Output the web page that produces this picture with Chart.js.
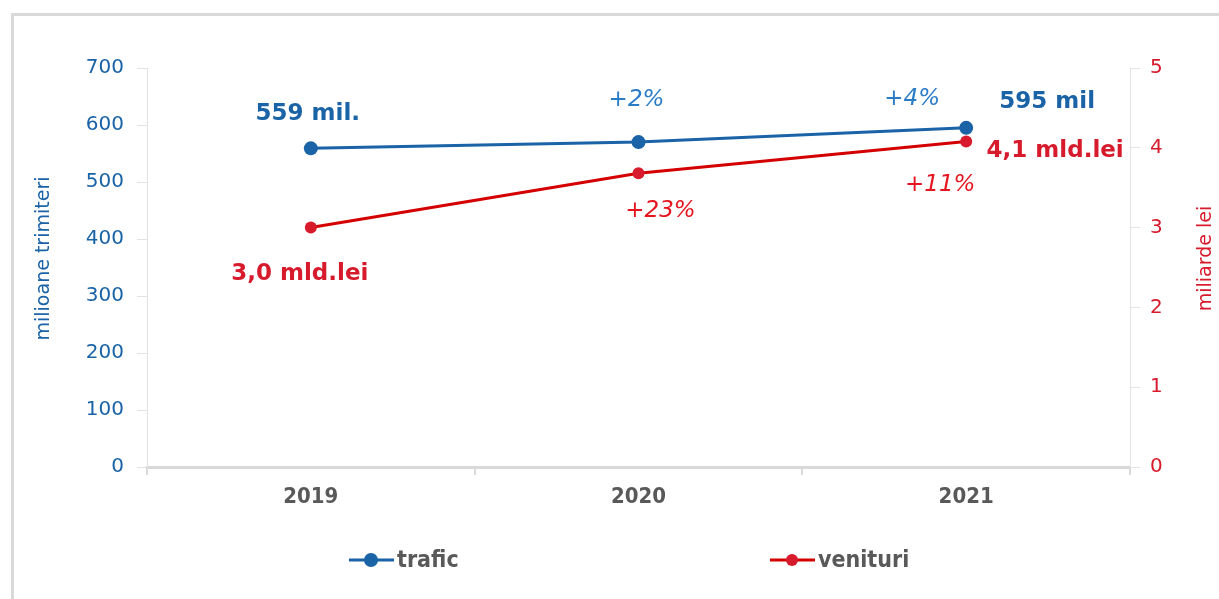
<!DOCTYPE html>
<html>
<head>
<meta charset="utf-8">
<script src="https://cdn.jsdelivr.net/npm/chart.js@4/dist/chart.umd.min.js"></script>
<style>
  html, body { margin: 0; padding: 0; background: #fff; }
  #c { display: block; }
</style>
</head>
<body>
<canvas id="c" width="1219" height="599"></canvas>
<script>
// date grafic
const years = ['2019', '2020', '2021'];
const trafic = [559, 570, 595];        // milioane trimiteri
const venituri = [3.0, 3.68, 4.08];    // miliarde lei
const leftTicks = [0, 100, 200, 300, 400, 500, 600, 700];
const rightTicks = [0, 1, 2, 3, 4, 5];

const BLUE = '#1a63a6';
const BLUE_LIGHT = '#2b7cc6';
const RED = '#d71a2c';
const RED_LINE = '#d40000';
const GREY = '#595959';

// etichete pe puncte: [dataset, index, text, tip, dx, dy]
const labels = [
  [0, 0, '559 mil.', 'bold', -3, -34],
  [0, 1, '+2%', 'italic', -2, -42],
  [0, 2, '+4%', 'italic', -54, -29],
  [0, 2, '595 mil', 'bold', 81, -26],
  [1, 0, '3,0 mld.lei', 'bold', -11, 46],
  [1, 1, '+23%', 'italic', 22, 38],
  [1, 2, '4,1 mld.lei', 'bold', 89, 10],
  [1, 2, '+11%', 'italic', -26, 44]
];

const extras = {
  id: 'extras',
  beforeDraw(chart) {
    const ctx = chart.ctx;
    ctx.save();
    ctx.strokeStyle = '#d9d9d9';
    ctx.lineWidth = 3;
    ctx.beginPath();
    ctx.moveTo(12.5, chart.height);
    ctx.lineTo(12.5, 14.5);
    ctx.lineTo(chart.width, 14.5);
    ctx.stroke();
    ctx.restore();
  },
  afterDraw(chart) {
    const ctx = chart.ctx;
    ctx.save();
    ctx.textAlign = 'center';
    ctx.textBaseline = 'middle';
    labels.forEach(l => {
      const pt = chart.getDatasetMeta(l[0]).data[l[1]];
      const blue = l[0] === 0;
      if (l[3] === 'bold') {
        ctx.font = 'bold 23px "DejaVu Sans"';
        ctx.fillStyle = blue ? BLUE : RED;
      } else {
        ctx.font = 'oblique 23px "DejaVu Sans"';
        ctx.fillStyle = blue ? BLUE_LIGHT : '#e5141f';
      }
      ctx.fillText(l[2], pt.x + l[4], pt.y + l[5]);
    });

    // titluri axe
    const area = chart.chartArea;
    const midY = (area.top + area.bottom) / 2 - 9;
    ctx.font = '19px "DejaVu Sans"';
    ctx.fillStyle = BLUE;
    ctx.save();
    ctx.translate(44, midY);
    ctx.rotate(-Math.PI / 2);
    ctx.fillText('milioane trimiteri', 0, 0);
    ctx.restore();
    ctx.fillStyle = RED;
    ctx.save();
    ctx.translate(1206, midY);
    ctx.rotate(-Math.PI / 2);
    ctx.fillText('miliarde lei', 0, 0);
    ctx.restore();

    // legenda
    const items = [
      ['trafic', BLUE, 349, 7],
      ['venituri', RED_LINE, 770, 6]
    ];
    const ly = 560;
    items.forEach(it => {
      ctx.strokeStyle = it[1];
      ctx.lineWidth = 3;
      ctx.beginPath();
      ctx.moveTo(it[2], ly);
      ctx.lineTo(it[2] + 45, ly);
      ctx.stroke();
      ctx.fillStyle = it[0] === 'trafic' ? BLUE : RED;
      ctx.beginPath();
      ctx.arc(it[2] + 22, ly, it[3], 0, Math.PI * 2);
      ctx.fill();
      ctx.font = 'bold 23px "DejaVu Sans Condensed"';
      ctx.fillStyle = GREY;
      ctx.textAlign = 'left';
      ctx.fillText(it[0], it[2] + 48, ly + 1);
    });
    ctx.restore();
  }
};

new Chart(document.getElementById('c'), {
  type: 'line',
  data: {
    labels: years,
    datasets: [
      {
        label: 'trafic',
        data: trafic,
        yAxisID: 'y',
        borderColor: BLUE,
        backgroundColor: BLUE,
        borderWidth: 3,
        pointRadius: 7,
        pointBorderWidth: 0,
        tension: 0
      },
      {
        label: 'venituri',
        data: venituri,
        yAxisID: 'y1',
        borderColor: RED_LINE,
        backgroundColor: RED,
        borderWidth: 3,
        pointRadius: 6,
        pointBorderWidth: 0,
        tension: 0
      }
    ]
  },
  options: {
    responsive: false,
    animation: false,
    layout: { padding: { top: 68, left: 0, right: 0, bottom: 0 } },
    plugins: {
      legend: { display: false },
      tooltip: { enabled: false }
    },
    scales: {
      x: {
        offset: true,
        grid: {
          offset: true,
          drawOnChartArea: false,
          color: '#d9d9d9',
          tickLength: 8,
          lineWidth: 2
        },
        border: { color: '#d9d9d9', width: 3 },
        ticks: {
          color: GREY,
          padding: 9,
          font: { family: 'DejaVu Sans Condensed', size: 22, weight: 'bold' }
        },
        afterFit(scale) { scale.height = 132; }
      },
      y: {
        position: 'left',
        min: 0,
        max: 700,
        afterBuildTicks(scale) { scale.ticks = leftTicks.map(v => ({ value: v })); },
        grid: { drawOnChartArea: false, color: '#e3e3e3', tickLength: 10 },
        border: { color: '#e3e3e3', width: 1 },
        ticks: {
          color: BLUE,
          padding: 13,
          font: { family: 'DejaVu Sans', size: 20 }
        },
        afterFit(scale) { scale.width = 147; }
      },
      y1: {
        position: 'right',
        min: 0,
        max: 5,
        afterBuildTicks(scale) { scale.ticks = rightTicks.map(v => ({ value: v })); },
        grid: { drawOnChartArea: false, color: '#e3e3e3', tickLength: 10 },
        border: { color: '#e3e3e3', width: 1 },
        ticks: {
          color: RED,
          padding: 10,
          font: { family: 'DejaVu Sans', size: 20 }
        },
        afterFit(scale) { scale.width = 89; }
      }
    }
  },
  plugins: [extras]
});
</script>
</body>
</html>
